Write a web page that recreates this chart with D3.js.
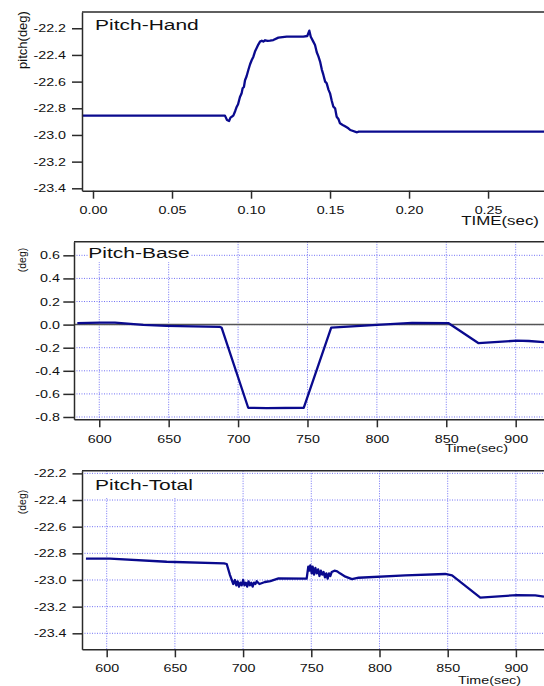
<!DOCTYPE html>
<html>
<head>
<meta charset="utf-8">
<script src="https://cdn.jsdelivr.net/npm/d3@7"></script>
<style>
  body { margin: 0; background: #fff; }
  svg { display: block; font-family: "Liberation Sans", Arial, sans-serif; }
</style>
</head>
<body>
<svg id="chart" width="544" height="686"></svg>
<script>
// panel 1 - hand pitch vs time (sec)
var handTime = [-0.007, 0.0835, 0.0848, 0.0861, 0.0870, 0.0878, 0.0888, 0.0900, 0.0909, 0.0918, 0.0930,
  0.0940, 0.0947, 0.0955, 0.0962, 0.0972, 0.0983, 0.0994, 0.1004, 0.1015, 0.1025, 0.1035, 0.1046, 0.1057,
  0.1068, 0.1078, 0.1089, 0.1105, 0.1120, 0.1141, 0.1173, 0.1226, 0.1331, 0.1356, 0.1369, 0.1378, 0.1394,
  0.1405, 0.1416, 0.1427, 0.1437, 0.1448, 0.1458, 0.1469, 0.1479, 0.1490, 0.1500, 0.1510, 0.1521, 0.1532,
  0.1542, 0.1553, 0.1563, 0.1580, 0.1595, 0.1616, 0.1628, 0.1671, 0.1682, 0.2860];
var handPitch = [-22.855, -22.855, -22.888, -22.895, -22.870, -22.863, -22.855, -22.820, -22.790, -22.770, -22.715,
  -22.690, -22.650, -22.640, -22.590, -22.560, -22.513, -22.470, -22.440, -22.413, -22.375, -22.350, -22.322, -22.300,
  -22.293, -22.300, -22.290, -22.295, -22.293, -22.288, -22.270, -22.262, -22.262, -22.258, -22.218, -22.263, -22.300,
  -22.325, -22.380, -22.413, -22.450, -22.510, -22.550, -22.600, -22.613, -22.660, -22.688, -22.740, -22.788, -22.800,
  -22.863, -22.880, -22.913, -22.925, -22.935, -22.950, -22.963, -22.980, -22.975, -22.975];

// panel 2 - base pitch vs time (sec)
var baseTime = [584.2, 600.5, 611.3, 631.7, 648.6, 687.0, 688.2, 707.3, 720.6, 747.3, 767.1,
  800.1, 825.3, 851.7, 873.3, 900.9, 909.4, 920.4];
var basePitch = [0.012, 0.017, 0.017, -0.003, -0.011, -0.020, -0.028, -0.720, -0.724, -0.720, -0.026,
  -0.003, 0.015, 0.012, -0.161, -0.139, -0.142, -0.152];

// panel 3 - total pitch vs time (sec)
var totalTime = [584.8, 602.4, 644.0, 686.0, 688.0, 690.4, 692.8, 694, 695, 696, 697, 698, 699, 700,
  701, 702, 703, 704, 705, 706, 707, 708, 709, 710, 712, 716, 720, 726, 746.6,
  747.8, 748.5, 749.3, 750.3, 751, 752, 753, 754, 755, 756, 757, 758, 759, 760, 761, 762, 763, 764, 765,
  767, 769, 771, 775, 779.8, 784.7, 818.9, 848.2, 853.2, 873.9, 900.8, 914.2, 920.6];
var totalPitch = [-22.840, -22.840, -22.863, -22.875, -22.880, -22.963, -23.030, -23.000, -23.040, -23.010,
  -23.050, -23.020, -23.040, -23.000, -23.040, -23.020, -23.050, -23.010, -23.040, -23.020, -23.050,
  -23.020, -23.030, -23.010, -23.030, -23.015, -23.008, -22.988, -22.990,
  -22.900, -22.930, -22.890, -22.950, -22.900, -22.960, -22.910, -22.950, -22.920, -22.970, -22.930,
  -22.960, -22.940, -22.980, -22.950, -22.990, -22.950, -22.970, -22.940,
  -22.930, -22.935, -22.950, -22.975, -22.993, -22.983, -22.965, -22.955, -22.965, -23.133, -23.113,
  -23.115, -23.125];

var handXTicks = [0, 0.05, 0.10, 0.15, 0.20, 0.25];
var handYTicks = [-22.2, -22.4, -22.6, -22.8, -23.0, -23.2, -23.4];
var timeXTicks = [600, 650, 700, 750, 800, 850, 900];
var baseYTicks = [0.6, 0.4, 0.2, 0.0, -0.2, -0.4, -0.6, -0.8];
var totalYTicks = [-22.2, -22.4, -22.6, -22.8, -23.0, -23.2, -23.4];

var svg = d3.select("#chart");
var lineColor = "#0a0a8e",
  gridColor = "#7272f4",
  axisColor = "#2a2a2a",
  stretch = 1.3;

function wide(sel, k){
  // the source figure has its text stretched sideways
  sel.attr("transform", function(){
    var x = +(this.getAttribute("x") || 0);
    return "translate(" + x + ",0) scale(" + (k || stretch) + ",1) translate(" + (-x) + ",0)";
  });
}

function drawPanel(p){
  var x = d3.scaleLinear().domain(p.xDomain).range([p.left, 544]);
  var y = d3.scaleLinear().domain(p.yDomain).range([p.bottom, p.top]);
  var g = svg.append("g");

  if (p.grid){
    g.selectAll(".vg").data(p.xTicks).enter().append("line")
      .attr("x1", function(d){ return x(d); }).attr("x2", function(d){ return x(d); })
      .attr("y1", p.top).attr("y2", p.bottom)
      .attr("stroke", gridColor).attr("stroke-width", 1).attr("stroke-dasharray", "1,1.5");
    g.selectAll(".hg").data(p.yTicks).enter().append("line")
      .attr("x1", p.left).attr("x2", 544)
      .attr("y1", function(d){ return y(d); }).attr("y2", function(d){ return y(d); })
      .attr("stroke", gridColor).attr("stroke-width", 1).attr("stroke-dasharray", "1,1.5");
  }
  if (p.zeroLine){
    g.append("line").attr("x1", p.left).attr("x2", 544)
      .attr("y1", y(0)).attr("y2", y(0))
      .attr("stroke", "#555").attr("stroke-width", 1.5);
  }

  var line = d3.line()
    .x(function(d, i){ return x(p.xs[i]); })
    .y(function(d){ return y(d); });
  g.append("path").datum(p.ys)
    .attr("d", line)
    .attr("fill", "none")
    .attr("stroke", lineColor)
    .attr("stroke-width", 2.3)
    .attr("stroke-linejoin", "round");

  // title with a white box behind it
  if (p.box){
    g.append("rect").attr("x", p.box[0]).attr("y", p.box[1])
      .attr("width", p.box[2]).attr("height", p.box[3]).attr("fill", "#fff");
  }
  g.append("text").attr("x", p.titleX).attr("y", p.titleY)
    .attr("font-size", 15).attr("fill", "#111")
    .text(p.title)
    .call(wide, 1.4);

  // frame top
  g.append("line").attr("x1", p.left).attr("x2", 544)
    .attr("y1", p.top).attr("y2", p.top)
    .attr("stroke", axisColor).attr("stroke-width", 1.5);

  var yAxis = g.append("g").attr("transform", "translate(" + p.left + ",0)")
    .call(d3.axisLeft(y).tickValues(p.yTicks).tickSize(p.yTick).tickSizeOuter(0)
      .tickPadding(p.yPad).tickFormat(d3.format(".1f")));
  var xAxis = g.append("g").attr("transform", "translate(0," + p.bottom + ")")
    .call(d3.axisBottom(x).tickValues(p.xTicks).tickSize(8).tickSizeOuter(0)
      .tickPadding(p.xPad).tickFormat(p.xFormat));
  [yAxis, xAxis].forEach(function(a){
    a.select(".domain").attr("stroke", axisColor).attr("stroke-width", 1.5);
    a.selectAll(".tick line").attr("stroke", axisColor).attr("stroke-width", 1.5);
    a.selectAll("text").attr("font-size", 11).attr("fill", "#111")
      .attr("font-family", "'Liberation Sans', Arial, sans-serif")
      .call(wide);
  });
  yAxis.selectAll("text").text(function(d){ return d3.format(".1f")(d).replace("\u2212", "-"); });

  g.append("text").attr("x", p.xLabelX).attr("y", p.xLabelY)
    .attr("text-anchor", "end").attr("font-size", p.xLabelSize).attr("fill", "#111")
    .text(p.xLabel)
    .call(wide);

  g.append("text")
    .attr("transform", "translate(" + p.yLabelX + "," + p.yLabelY + ") rotate(-90)")
    .attr("text-anchor", "middle").attr("font-size", p.yLabelSize).attr("fill", "#111")
    .text(p.yLabel);
}

drawPanel({
  xs: handTime, ys: handPitch,
  xDomain: [-0.00696, 0.2854], yDomain: [-23.418, -22.078],
  left: 82, top: 12, bottom: 190.7,
  xTicks: handXTicks, yTicks: handYTicks, xFormat: d3.format(".2f"),
  yTick: 10, yPad: 6, xPad: 7,
  grid: false, zeroLine: false,
  title: "Pitch-Hand", titleX: 95, titleY: 30.5,
  xLabel: "TIME(sec)", xLabelX: 539, xLabelY: 225, xLabelSize: 13,
  yLabel: "pitch(deg)", yLabelX: 26.5, yLabelY: 40, yLabelSize: 13
});

drawPanel({
  xs: baseTime, ys: basePitch,
  xDomain: [581.8, 920.4], yDomain: [-0.82, 0.718],
  left: 74, top: 241.7, bottom: 419.3,
  xTicks: timeXTicks, yTicks: baseYTicks, xFormat: d3.format("d"),
  yTick: 10.7, yPad: 3.3, xPad: 8,
  grid: true, zeroLine: true,
  box: [88, 242, 102, 20],
  title: "Pitch-Base", titleX: 88.3, titleY: 258,
  xLabel: "Time(sec)", xLabelX: 508, xLabelY: 452, xLabelSize: 11,
  yLabel: "(deg)", yLabelX: 25.5, yLabelY: 260, yLabelSize: 10.5
});

drawPanel({
  xs: totalTime, ys: totalPitch,
  xDomain: [581.9, 920.6], yDomain: [-23.52, -22.18],
  left: 82, top: 470.7, bottom: 649.3,
  xTicks: timeXTicks, yTicks: totalYTicks, xFormat: d3.format("d"),
  yTick: 9.5, yPad: 6, xPad: 6.7,
  grid: true, zeroLine: false,
  box: [92, 474.5, 108, 22.5],
  title: "Pitch-Total", titleX: 95, titleY: 490.5,
  xLabel: "Time(sec)", xLabelX: 521, xLabelY: 684, xLabelSize: 11,
  yLabel: "(deg)", yLabelX: 25.5, yLabelY: 502, yLabelSize: 10.5
});
</script>
</body>
</html>
